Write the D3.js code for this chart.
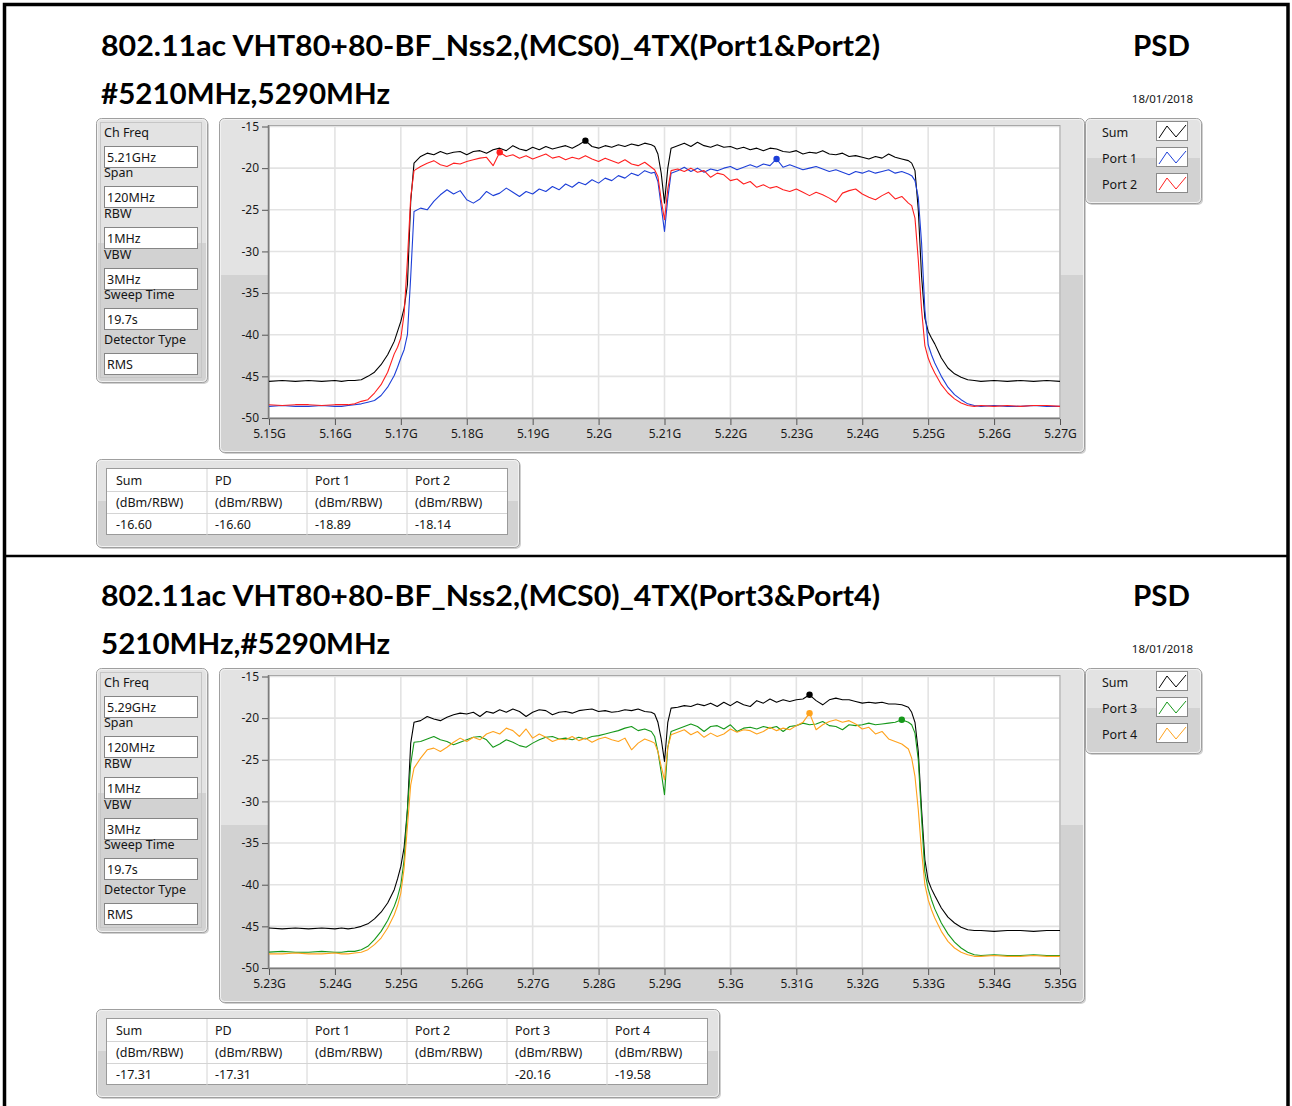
<!DOCTYPE html>
<html lang="en">
<head>
<meta charset="UTF-8" />
<title>PSD</title>
<script src="https://cdn.jsdelivr.net/npm/d3@7"></script>
<style>
  html, body { margin: 0; padding: 0; background: #fff; }
  svg { display: block; }
  .ui { font-family: "Noto Sans", "DejaVu Sans", sans-serif; font-size: 12.5px; fill: #151515; }
  .tick-label { font-family: "Noto Sans", "DejaVu Sans", sans-serif; font-size: 12px; fill: #1a1a1a; }
  .title { font-family: Lato, "Noto Sans", sans-serif; font-weight: bold; font-size: 28px; fill: #000; }
</style>
</head>
<body>
<svg id="chart" width="1292" height="1106"></svg>
<script>
// ---- data ----
const title1 = "802.11ac VHT80+80-BF_Nss2,(MCS0)_4TX(Port1&Port2)";
const subtitle1 = "#5210MHz,5290MHz";
const title2 = "802.11ac VHT80+80-BF_Nss2,(MCS0)_4TX(Port3&Port4)";
const subtitle2 = "5210MHz,#5290MHz";
const dateLabel = "18/01/2018";

const settingLabels = ["Ch Freq", "Span", "RBW", "VBW", "Sweep Time", "Detector Type"];
const settingValues1 = ["5.21GHz", "120MHz", "1MHz", "3MHz", "19.7s", "RMS"];
const settingValues2 = ["5.29GHz", "120MHz", "1MHz", "3MHz", "19.7s", "RMS"];

const yTickValues = [-15, -20, -25, -30, -35, -40, -45, -50];
const yTickLabels = ["-15", "-20", "-25", "-30", "-35", "-40", "-45", "-50"];

const xTickValues1 = [5150, 5160, 5170, 5180, 5190, 5200, 5210, 5220, 5230, 5240, 5250, 5260, 5270];
const xTickLabels1 = ["5.15G", "5.16G", "5.17G", "5.18G", "5.19G", "5.2G", "5.21G", "5.22G", "5.23G", "5.24G", "5.25G", "5.26G", "5.27G"];
const xTickValues2 = [5230, 5240, 5250, 5260, 5270, 5280, 5290, 5300, 5310, 5320, 5330, 5340, 5350];
const xTickLabels2 = ["5.23G", "5.24G", "5.25G", "5.26G", "5.27G", "5.28G", "5.29G", "5.3G", "5.31G", "5.32G", "5.33G", "5.34G", "5.35G"];

// sample frequencies (MHz)
const freq1 = [5150, 5152, 5154, 5156, 5158, 5160, 5161, 5162,
  5163, 5164, 5165, 5166, 5167, 5168, 5169, 5169.5, 5170, 5170.5, 5171, 5171.5, 5172,
  5173, 5174, 5175, 5176, 5177, 5178, 5179, 5180, 5181, 5182, 5183, 5184, 5185, 5186, 5187, 5188, 5189, 5190,
  5191, 5192, 5193, 5194, 5195, 5196, 5197, 5198, 5199, 5200, 5201, 5202, 5203, 5204, 5205, 5206, 5207, 5208,
  5208.5, 5209, 5209.5, 5210, 5210.5, 5211,
  5212, 5213, 5214, 5215, 5216, 5217, 5218, 5219, 5220, 5221, 5222, 5223, 5224, 5225, 5226, 5227, 5228, 5229,
  5230, 5231, 5232, 5233, 5234, 5235, 5236, 5237, 5238, 5239, 5240, 5241, 5242, 5243, 5244, 5245, 5246, 5247,
  5247.5, 5248, 5248.5, 5249, 5249.5, 5250, 5250.5, 5251, 5252, 5253, 5254, 5255, 5256, 5257,
  5258, 5260, 5262, 5264, 5266, 5268, 5270];

const sum1 = [-45.6, -45.5, -45.6, -45.5, -45.6, -45.5, -45.6, -45.5,
  -45.5, -45.4, -45.0, -44.5, -43.6, -42.4, -40.8, -39.6, -38.4, -36.8, -34.0, -24.0, -19.4,
  -18.6, -18.2, -18.4, -18.0, -18.3, -18.1, -18.0, -18.4, -18.0, -17.9, -18.2, -17.8, -17.6, -17.9, -17.3, -17.7, -17.9, -17.5,
  -17.8, -17.4, -17.7, -17.5, -17.3, -17.6, -17.2, -16.7, -17.4, -17.6, -17.3, -17.5, -17.2, -17.4, -17.1, -17.3, -17.0, -17.2,
  -17.4, -18.3, -20.6, -24.2, -20.0, -17.6,
  -17.3, -17.0, -17.4, -16.9, -17.3, -17.5, -17.2, -17.5, -17.4, -17.7, -17.5, -17.8, -17.6, -17.9, -17.6, -17.7, -18.0, -18.1,
  -17.9, -18.3, -18.1, -18.2, -17.9, -18.3, -18.4, -18.2, -18.6, -18.5, -18.7, -18.9, -18.6, -18.8, -18.3, -18.7, -18.9, -19.1,
  -19.4, -20.3, -25.0, -33.0, -38.0, -39.6, -40.4, -41.1, -42.8, -44.0, -44.7, -45.1, -45.4, -45.5,
  -45.6, -45.5, -45.6, -45.5, -45.6, -45.5, -45.6];

const port1 = [-48.6, -48.5, -48.6, -48.6, -48.5, -48.6, -48.6, -48.5,
  -48.4, -48.3, -48.1, -47.9, -47.3, -46.3, -44.9, -43.9, -42.8, -41.8, -40.0, -33.0, -25.2,
  -24.8, -25.0, -24.0, -23.2, -22.6, -23.1, -22.7, -23.8, -24.2, -23.7, -22.8, -23.3, -23.0, -22.4, -22.9, -23.4, -22.8, -23.1,
  -22.5, -22.8, -22.2, -22.6, -21.9, -22.3, -21.7, -22.0, -21.4, -21.8, -21.2, -21.5, -20.9, -21.2, -20.6, -20.9, -20.3, -20.6,
  -20.5, -21.6, -24.6, -27.6, -23.6, -20.6,
  -20.3, -19.9, -20.4, -20.0, -20.5, -20.1, -20.3, -20.0, -19.8, -20.2, -19.9, -19.6, -19.9, -19.5, -19.7, -18.9, -19.9, -19.6,
  -19.9, -20.2, -20.0, -19.8, -20.1, -20.4, -20.2, -20.5, -20.8, -20.4, -20.6, -20.3, -20.6, -20.4, -20.2, -20.6, -20.4, -20.7,
  -20.9, -21.5, -23.5, -29.0, -37.0, -41.2, -42.4, -43.4, -45.0, -46.3, -47.2, -47.8, -48.3, -48.5,
  -48.6, -48.5, -48.6, -48.6, -48.5, -48.6, -48.6];

const port2 = [-48.4, -48.5, -48.4, -48.4, -48.5, -48.4, -48.4, -48.4,
  -48.3, -48.0, -47.8, -47.0, -46.0, -44.5, -42.3, -41.5, -40.4, -37.5, -31.0, -23.5, -20.3,
  -19.8, -19.4, -19.1, -19.6, -19.8, -19.4, -19.5, -19.2, -19.0, -18.8, -18.7, -19.7, -18.1, -18.6, -18.4, -18.8, -18.5, -18.9,
  -18.6, -18.3, -18.8, -18.6, -19.0, -18.7, -18.9, -18.5, -18.9, -19.2, -18.8, -19.1, -19.4, -19.0, -19.5, -19.7, -19.3, -19.9,
  -20.2, -21.0, -23.8, -26.2, -22.5, -20.3,
  -20.1, -20.4, -20.0, -20.5, -20.3, -21.1, -20.6, -20.8, -21.5, -21.3, -21.9, -21.6, -22.3, -22.0, -22.4, -22.2, -22.6, -22.8,
  -22.5, -22.9, -23.3, -22.9, -23.2, -23.6, -24.1, -23.0, -22.7, -22.5, -23.1, -23.5, -23.8, -23.3, -22.9, -23.7, -23.4, -24.2,
  -24.5, -26.0, -31.0, -37.0, -41.3, -42.8, -43.8, -44.6, -46.0, -47.0, -47.7, -48.2, -48.5, -48.6,
  -48.5, -48.6, -48.5, -48.6, -48.5, -48.5, -48.6];

const freq2 = [5230, 5232, 5234, 5236, 5238, 5240, 5241, 5242,
  5243, 5244, 5245, 5246, 5247, 5248, 5249, 5249.5, 5250, 5250.5, 5251, 5251.5, 5252,
  5253, 5254, 5255, 5256, 5257, 5258, 5259, 5260, 5261, 5262, 5263, 5264, 5265, 5266, 5267, 5268, 5269, 5270,
  5271, 5272, 5273, 5274, 5275, 5276, 5277, 5278, 5279, 5280, 5281, 5282, 5283, 5284, 5285, 5286, 5287, 5288,
  5288.5, 5289, 5289.5, 5290, 5290.5, 5291,
  5292, 5293, 5294, 5295, 5296, 5297, 5298, 5299, 5300, 5301, 5302, 5303, 5304, 5305, 5306, 5307, 5308, 5309,
  5310, 5311, 5312, 5313, 5314, 5315, 5316, 5317, 5318, 5319, 5320, 5321, 5322, 5323, 5324, 5325, 5326, 5327,
  5327.5, 5328, 5328.5, 5329, 5329.5, 5330, 5330.5, 5331, 5332, 5333, 5334, 5335, 5336, 5337,
  5338, 5340, 5342, 5344, 5346, 5348, 5350];

const sum2 = [-45.2, -45.3, -45.2, -45.3, -45.2, -45.3, -45.2, -45.3,
  -45.2, -45.0, -44.7, -44.1, -43.3, -42.2, -40.6, -39.3, -37.8, -35.5, -31.0, -23.0, -20.5,
  -20.3, -19.8, -20.1, -20.3, -19.9, -19.6, -19.4, -19.5, -19.3, -19.8, -19.2, -19.4, -19.0, -19.3, -18.9, -19.2, -19.8, -19.3,
  -19.0, -19.1, -19.6, -19.3, -19.2, -19.4, -19.1, -19.0, -18.9, -19.2, -19.1, -19.3, -19.2, -19.0, -19.1, -18.9, -19.2, -19.3,
  -19.5, -20.5, -22.5, -25.2, -20.5, -18.8,
  -18.7, -18.5, -18.6, -18.3, -18.5, -18.2, -18.6, -18.1, -18.5, -18.0, -18.4, -18.6, -17.9, -18.2, -17.7, -18.1, -17.8, -18.0,
  -17.8, -17.7, -17.2, -17.9, -18.4, -17.8, -17.6, -17.8, -17.8, -18.0, -18.2, -18.1, -18.2, -18.1, -18.3, -18.3, -18.4, -18.7,
  -19.3, -20.5, -24.0, -31.0, -37.0, -39.5, -40.5, -41.3, -42.8, -43.9, -44.6, -45.1, -45.4, -45.5,
  -45.5, -45.6, -45.5, -45.5, -45.6, -45.5, -45.5];

const port3 = [-48.1, -48.0, -48.1, -48.1, -48.0, -48.1, -48.1, -48.0,
  -48.0, -47.8, -47.4, -46.6, -45.6, -44.3, -42.6, -41.5, -40.0, -37.0, -31.0, -25.5, -22.9,
  -22.8, -22.5, -22.2, -22.6, -22.8, -23.2, -22.9, -22.6, -22.3, -22.2, -22.6, -23.5, -23.1, -22.6, -22.9, -23.3, -23.5, -23.0,
  -22.6, -22.3, -22.2, -22.5, -22.4, -22.6, -22.3, -22.5, -22.2, -22.1, -21.9, -21.7, -21.5, -21.2, -21.0, -21.5, -21.3, -21.6,
  -22.2, -24.0, -26.5, -29.2, -23.5, -21.6,
  -21.3, -21.0, -20.7, -21.0, -21.6, -21.0, -20.9, -21.3, -20.8, -21.6, -21.2, -21.1, -21.3, -21.0, -21.2, -21.0, -21.6, -21.0,
  -20.9, -20.6, -20.8, -20.7, -20.4, -20.9, -21.0, -21.4, -20.8, -20.9, -20.8, -20.6, -20.8, -20.7, -20.6, -20.5, -20.2, -20.5,
  -20.8, -21.8, -25.0, -32.0, -38.5, -40.5, -41.8, -42.9, -44.6, -45.9, -46.9, -47.6, -48.1, -48.4,
  -48.5, -48.4, -48.5, -48.5, -48.4, -48.5, -48.5];

const port4 = [-48.3, -48.3, -48.2, -48.3, -48.3, -48.2, -48.3, -48.3,
  -48.2, -48.1, -47.8, -47.2, -46.4, -45.2, -43.6, -42.5, -41.0, -38.0, -33.0, -28.0, -26.0,
  -24.8, -23.8, -23.6, -24.0, -23.5, -22.9, -22.4, -22.8, -22.3, -22.6, -21.9, -21.6, -21.9, -21.2, -21.5, -22.2, -21.3, -22.4,
  -21.9, -22.3, -22.8, -22.5, -22.6, -22.2, -22.7, -22.4, -22.9, -22.5, -22.3, -22.6, -22.8, -22.4, -23.8, -23.0, -22.5, -22.8,
  -23.0, -24.0, -25.8, -27.4, -23.5, -22.0,
  -21.7, -21.4, -22.0, -21.6, -22.3, -21.8, -22.2, -21.9, -21.3, -21.7, -21.4, -21.5, -21.9, -21.6, -21.1, -21.5, -21.2, -21.4,
  -20.9, -20.5, -19.4, -21.4, -20.8, -20.4, -20.2, -20.5, -20.3, -20.7, -21.3, -21.1, -21.9, -21.6, -22.5, -22.8, -23.1, -23.7,
  -24.8, -27.0, -31.0, -36.0, -40.0, -41.8, -43.0, -44.0, -45.6, -46.8, -47.6, -48.1, -48.4, -48.6,
  -48.6, -48.5, -48.6, -48.6, -48.5, -48.6, -48.6];

// peak markers: series name and frequency of the peak
const markers1 = [{ name: "Sum", f: 5198 }, { name: "Port 1", f: 5227 }, { name: "Port 2", f: 5185 }];
const markers2 = [{ name: "Sum", f: 5312 }, { name: "Port 3", f: 5326 }, { name: "Port 4", f: 5312 }];

const tableUnit = "(dBm/RBW)";
const tableHeads1 = ["Sum", "PD", "Port 1", "Port 2"];
const tableValues1 = ["-16.60", "-16.60", "-18.89", "-18.14"];
const tableHeads2 = ["Sum", "PD", "Port 1", "Port 2", "Port 3", "Port 4"];
const tableValues2 = ["-17.31", "-17.31", "", "", "-20.16", "-19.58"];

const colors = { "Sum": "#000000", "Port 1": "#1d3fd8", "Port 2": "#ff1f1f", "Port 3": "#16981a", "Port 4": "#ffa21c" };

const panels = [
  { top: 0, title: title1, subtitle: subtitle1, settings: settingValues1,
    freq: freq1, xTicks: xTickValues1, xLabels: xTickLabels1, markers: markers1,
    series: [{ name: "Sum", values: sum1 }, { name: "Port 1", values: port1 }, { name: "Port 2", values: port2 }],
    heads: tableHeads1, vals: tableValues1 },
  { top: 550, title: title2, subtitle: subtitle2, settings: settingValues2,
    freq: freq2, xTicks: xTickValues2, xLabels: xTickLabels2, markers: markers2,
    series: [{ name: "Sum", values: sum2 }, { name: "Port 3", values: port3 }, { name: "Port 4", values: port4 }],
    heads: tableHeads2, vals: tableValues2 }
];

// ---- drawing ----
const svg = d3.select("#chart");
const defs = svg.append("defs");

const grad = defs.append("linearGradient").attr("id", "boxFill")
  .attr("x1", 0).attr("y1", 0).attr("x2", 0).attr("y2", 1);
[[0, "#e3e3e3"], [0.47, "#e3e3e3"], [0.47, "#d2d2d2"], [1, "#d2d2d2"]]
  .forEach(([o, c]) => grad.append("stop").attr("offset", o).attr("stop-color", c));

// plot area bounds (same for both panels, panel-local coords)
const plotL = 269, plotR = 1060, plotT = 126.5, plotB = 418;

defs.append("clipPath").attr("id", "plotClip")
  .append("rect").attr("x", plotL).attr("y", plotT - 2).attr("width", plotR - plotL).attr("height", plotB - plotT + 4);

svg.append("rect").attr("width", 1292).attr("height", 1106).attr("fill", "#fff");

function bevelBox(g, x, y, w, h) {
  g.append("rect").attr("x", x + 2).attr("y", y + 2).attr("width", w).attr("height", h)
    .attr("rx", 5).attr("fill", "#a9a9a9").attr("opacity", 0.55);
  g.append("rect").attr("x", x + 0.5).attr("y", y + 0.5).attr("width", w).attr("height", h)
    .attr("rx", 5).attr("fill", "url(#boxFill)").attr("stroke", "#9f9f9f");
  g.append("rect").attr("x", x + 1.5).attr("y", y + 1.5).attr("width", w - 2).attr("height", h - 2)
    .attr("rx", 4).attr("fill", "none").attr("stroke", "#f2f2f2");
}

function drawPanel(p) {
  const g = svg.append("g").attr("transform", `translate(0,${p.top})`);

  // headings
  g.append("text").attr("class", "title").attr("x", 101).attr("y", 56)
    .attr("textLength", 779).attr("lengthAdjust", "spacingAndGlyphs").text(p.title);
  g.append("text").attr("class", "title").attr("x", 101).attr("y", 104)
    .attr("textLength", 289).attr("lengthAdjust", "spacingAndGlyphs").text(p.subtitle);
  g.append("text").attr("class", "title").attr("x", 1133).attr("y", 56)
    .attr("textLength", 57).attr("lengthAdjust", "spacingAndGlyphs").text("PSD");
  g.append("text").attr("class", "ui").attr("x", 1193).attr("y", 103)
    .attr("text-anchor", "end").style("font-size", "11.5px").text(dateLabel);

  // settings panel
  bevelBox(g, 96, 118, 111, 264);
  g.append("rect").attr("x", 100.5).attr("y", 122.5).attr("width", 101).attr("height", 255)
    .attr("fill", "none").attr("stroke", "#c6c6c6");
  const fieldTops = [146, 186, 227, 268, 308, 353];
  settingLabels.forEach((label, i) => {
    const by = fieldTops[i];
    g.append("text").attr("class", "ui").attr("x", 104).attr("y", by - 9).text(label);
    g.append("rect").attr("x", 104.5).attr("y", by + 0.5).attr("width", 93).attr("height", 21)
      .attr("fill", "#fff").attr("stroke", "#858585");
    g.append("text").attr("class", "ui").attr("x", 107).attr("y", by + 16).text(p.settings[i]);
  });

  // graph frame
  bevelBox(g, 219, 118, 865, 334);

  const x = d3.scaleLinear().domain([p.xTicks[0], p.xTicks[p.xTicks.length - 1]]).range([plotL, plotR]);
  const y = d3.scaleLinear().domain([-50, -15]).range([plotB, plotT]);

  g.append("rect").attr("x", plotL).attr("y", plotT).attr("width", plotR - plotL).attr("height", plotB - plotT)
    .attr("fill", "#fff");

  const grid = g.append("g").attr("stroke", "#e3e3e3").attr("stroke-width", 1.6);
  grid.selectAll(".gx").data(p.xTicks).join("line")
    .attr("x1", d => x(d)).attr("x2", d => x(d)).attr("y1", plotT).attr("y2", plotB);
  grid.selectAll(".gy").data(yTickValues).join("line")
    .attr("x1", plotL).attr("x2", plotR).attr("y1", d => y(d)).attr("y2", d => y(d));

  g.append("rect").attr("x", plotL).attr("y", plotT - 1).attr("width", plotR - plotL).attr("height", plotB - plotT + 1)
    .attr("fill", "none").attr("stroke", "#a8a8a8");
  g.append("path").attr("d", `M${plotL - 0.5},${plotT - 1.5}V${plotB + 0.5}H${plotR}`)
    .attr("fill", "none").attr("stroke", "#7c7c7c").attr("stroke-width", 1.5);

  const yAxis = g.append("g").attr("transform", `translate(${plotL - 1},0)`)
    .call(d3.axisLeft(y).tickValues(yTickValues).tickFormat((d, i) => yTickLabels[i]).tickSize(6).tickPadding(3));
  const xAxis = g.append("g").attr("transform", `translate(0,${plotB + 1})`)
    .call(d3.axisBottom(x).tickValues(p.xTicks).tickFormat((d, i) => p.xLabels[i]).tickSize(6).tickPadding(4));
  [yAxis, xAxis].forEach(a => {
    a.attr("font-family", null).attr("font-size", null);
    a.select(".domain").remove();
    a.selectAll(".tick line").attr("stroke", "#555");
    a.selectAll(".tick text").attr("class", "tick-label").attr("fill", null);
  });

  // traces
  const traces = g.append("g").attr("clip-path", "url(#plotClip)");
  const line = d3.line().x(d => x(d[0])).y(d => y(d[1]));
  p.series.forEach(s => {
    traces.append("path")
      .datum(p.freq.map((f, i) => [f, s.values[i]]))
      .attr("d", line)
      .attr("fill", "none")
      .attr("stroke", colors[s.name])
      .attr("stroke-width", 1.1)
      .attr("stroke-linejoin", "round");
  });
  p.markers.forEach(m => {
    const s = p.series.find(d => d.name === m.name);
    const i = p.freq.indexOf(m.f);
    traces.append("circle").attr("cx", x(m.f)).attr("cy", y(s.values[i])).attr("r", 3.2)
      .attr("fill", colors[m.name]);
  });

  // legend
  bevelBox(g, 1085, 118, 116, 85);
  p.series.forEach((s, i) => {
    const base = 137 + i * 26;
    g.append("text").attr("class", "ui").attr("x", 1102).attr("y", base).text(s.name);
    g.append("rect").attr("x", 1156.5).attr("y", base - 15.5).attr("width", 31).attr("height", 19)
      .attr("fill", "#fff").attr("stroke", "#8a8a8a");
    const ox = 1157, oy = base - 15;
    g.append("polyline")
      .attr("points", [[2, 16], [10, 4], [19, 15], [29, 3]].map(q => [ox + q[0], oy + q[1]].join(",")).join(" "))
      .attr("fill", "none").attr("stroke", colors[s.name]).attr("stroke-width", 1);
  });

  // result table
  const n = p.heads.length, colW = 100, rowH = 22;
  const tx = 107, ty = 469;
  bevelBox(g, 96, 459, n * colW + 23, 88);
  const tbl = g.append("g");
  tbl.append("rect").attr("x", tx - 0.5).attr("y", ty - 0.5).attr("width", n * colW + 1).attr("height", rowH * 3)
    .attr("fill", "#fff").attr("stroke", "#9a9a9a");
  for (let c = 1; c < n; c++) {
    tbl.append("line").attr("x1", tx + c * colW).attr("x2", tx + c * colW)
      .attr("y1", ty).attr("y2", ty + rowH * 3).attr("stroke", "#d4d4d4");
  }
  for (let r = 1; r < 3; r++) {
    tbl.append("line").attr("x1", tx).attr("x2", tx + n * colW)
      .attr("y1", ty + r * rowH + 0.5).attr("y2", ty + r * rowH + 0.5).attr("stroke", "#d4d4d4");
  }
  p.heads.forEach((h, c) => {
    const cx = tx + c * colW + (c === 0 ? 9 : 8);
    tbl.append("text").attr("class", "ui").attr("x", cx).attr("y", ty + 16).text(h);
    tbl.append("text").attr("class", "ui").attr("x", cx).attr("y", ty + rowH + 16).text(tableUnit);
    tbl.append("text").attr("class", "ui").attr("x", cx).attr("y", ty + rowH * 2 + 16).text(p.vals[c]);
  });
}

panels.forEach(drawPanel);

// page frame and divider
svg.append("rect").attr("x", 4.5).attr("y", 4.5).attr("width", 1283.5).attr("height", 1130)
  .attr("fill", "none").attr("stroke", "#000").attr("stroke-width", 3.5);
svg.append("line").attr("x1", 4).attr("x2", 1289).attr("y1", 556).attr("y2", 556)
  .attr("stroke", "#000").attr("stroke-width", 2.5);
</script>
</body>
</html>
